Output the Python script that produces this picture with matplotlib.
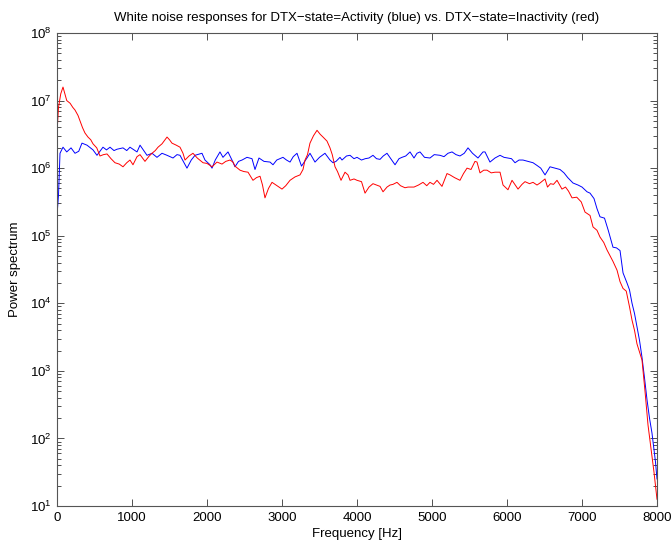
import numpy as np
import matplotlib
matplotlib.use("Agg")
import matplotlib.pyplot as plt
from matplotlib.ticker import LogLocator, FixedLocator

plt.rcParams['font.family'] = ['Liberation Sans', 'DejaVu Sans']
plt.rcParams['mathtext.fontset'] = 'custom'
plt.rcParams['mathtext.rm'] = 'Liberation Sans'

# blue: DTX-state=Activity, values read as log10(power)
freq_act = [0, 20, 40, 80, 130, 187, 240, 290, 333, 400, 480, 533, 613, 660, 707, 760,
            800, 880, 930, 973, 1067, 1107, 1150, 1200, 1267, 1333, 1400, 1467, 1547, 1600,
            1640, 1733, 1790, 1840, 1933, 1973, 2040, 2067, 2110, 2173, 2213, 2280, 2333,
            2373, 2420, 2467, 2533, 2600, 2640, 2693, 2760, 2840, 2880, 2930, 3013, 3060,
            3107, 3150, 3200, 3260, 3333, 3373, 3440, 3500, 3573, 3640, 3680, 3720, 3773,
            3800, 3860, 3907, 3960, 4000, 4060, 4110, 4160, 4213, 4260, 4307, 4350, 4400,
            4450, 4507, 4560, 4600, 4650, 4707, 4760, 4800, 4840, 4900, 4973, 5030, 5107,
            5160, 5213, 5267, 5320, 5373, 5430, 5480, 5540, 5613, 5680, 5707, 5773, 5840,
            5907, 5960, 6013, 6060, 6107, 6160, 6213, 6280, 6347, 6400, 6450, 6507, 6573,
            6640, 6707, 6760, 6810, 6880, 6947, 7000, 7067, 7107, 7160, 7200, 7240, 7300,
            7350, 7413, 7460, 7507, 7547, 7600, 7633, 7667, 7700, 7733, 7767, 7800, 7833,
            7867, 7900, 7933, 7960, 7980, 8000]
logp_act = [5.30, 5.60, 6.22, 6.31, 6.24, 6.30, 6.22, 6.25, 6.37, 6.34, 6.27, 6.19, 6.31, 6.27,
            6.31, 6.26, 6.28, 6.30, 6.26, 6.31, 6.24, 6.34, 6.27, 6.19, 6.22, 6.16, 6.22, 6.19,
            6.15, 6.20, 6.19, 6.00, 6.12, 6.19, 6.22, 6.12, 6.05, 6.00, 6.12, 6.24, 6.16, 6.24,
            6.12, 6.02, 6.10, 6.12, 6.16, 6.14, 5.98, 6.15, 6.10, 6.09, 6.05, 6.12, 6.16, 6.12,
            6.09, 6.17, 6.22, 6.03, 6.15, 6.22, 6.09, 6.16, 6.22, 6.12, 6.08, 6.10, 6.16, 6.12,
            6.18, 6.19, 6.14, 6.16, 6.12, 6.14, 6.15, 6.19, 6.14, 6.13, 6.18, 6.22, 6.14, 6.05,
            6.14, 6.16, 6.18, 6.24, 6.15, 6.22, 6.24, 6.16, 6.15, 6.20, 6.19, 6.17, 6.22, 6.24,
            6.20, 6.18, 6.22, 6.30, 6.22, 6.15, 6.24, 6.24, 6.09, 6.15, 6.19, 6.16, 6.15, 6.14,
            6.08, 6.12, 6.12, 6.10, 6.08, 6.04, 6.00, 5.90, 6.02, 6.00, 5.98, 5.93, 5.86, 5.78,
            5.75, 5.72, 5.65, 5.63, 5.55, 5.40, 5.28, 5.26, 5.08, 4.83, 4.82, 4.78, 4.45, 4.30,
            4.20, 4.00, 3.85, 3.65, 3.45, 3.20, 2.90, 2.57, 2.30, 2.08, 1.83, 1.65, 1.40]

# red: DTX-state=Inactivity, values read as log10(power)
freq_inact = [0, 20, 50, 80, 105, 130, 175, 210, 240, 280, 307, 340, 373, 413, 450, 480, 530,
              573, 620, 667, 720, 773, 830, 880, 930, 973, 1013, 1067, 1107, 1173, 1230, 1267,
              1310, 1347, 1400, 1467, 1500, 1533, 1590, 1640, 1680, 1707, 1760, 1813, 1870,
              1947, 2000, 2067, 2133, 2200, 2250, 2307, 2347, 2373, 2440, 2490, 2547, 2613,
              2660, 2707, 2740, 2773, 2820, 2867, 2907, 2960, 3000, 3050, 3107, 3173, 3240,
              3280, 3307, 3340, 3373, 3420, 3467, 3510, 3547, 3600, 3640, 3670, 3707, 3740,
              3787, 3840, 3880, 3907, 3960, 4000, 4060, 4107, 4160, 4213, 4260, 4307, 4347,
              4400, 4440, 4480, 4533, 4580, 4640, 4680, 4760, 4820, 4880, 4930, 4973, 5020,
              5067, 5133, 5200, 5240, 5300, 5373, 5420, 5467, 5520, 5573, 5600, 5640, 5690,
              5733, 5790, 5840, 5907, 5947, 6013, 6067, 6110, 6147, 6200, 6240, 6300, 6347,
              6400, 6440, 6507, 6540, 6580, 6620, 6667, 6733, 6780, 6820, 6867, 6930, 6990,
              7040, 7107, 7147, 7200, 7240, 7290, 7333, 7413, 7467, 7507, 7547, 7590, 7633,
              7667, 7700, 7733, 7767, 7800, 7840, 7880, 7920, 7960, 8000]
logp_inact = [6.52, 6.90, 7.10, 7.20, 7.10, 7.00, 6.96, 6.90, 6.86, 6.78, 6.70, 6.60, 6.52,
              6.46, 6.42, 6.36, 6.30, 6.18, 6.20, 6.21, 6.14, 6.08, 6.06, 6.02, 6.08, 6.12,
              6.05, 6.17, 6.20, 6.10, 6.18, 6.22, 6.26, 6.31, 6.36, 6.46, 6.42, 6.37, 6.34,
              6.31, 6.22, 6.12, 6.18, 6.22, 6.15, 6.08, 6.07, 6.02, 6.09, 6.06, 6.10, 6.12,
              6.09, 6.03, 5.97, 5.95, 5.94, 5.82, 5.86, 5.88, 5.75, 5.56, 5.70, 5.79, 5.76,
              5.72, 5.69, 5.74, 5.82, 5.87, 5.90, 5.98, 6.12, 6.20, 6.37, 6.48, 6.56, 6.50,
              6.46, 6.40, 6.30, 6.20, 6.02, 5.95, 5.82, 5.94, 5.90, 5.82, 5.84, 5.82, 5.80,
              5.63, 5.72, 5.77, 5.75, 5.73, 5.65, 5.72, 5.75, 5.76, 5.79, 5.74, 5.71, 5.72,
              5.72, 5.75, 5.79, 5.74, 5.79, 5.76, 5.82, 5.73, 5.92, 5.90, 5.86, 5.82, 5.92,
              6.00, 5.98, 6.10, 6.09, 5.93, 5.97, 5.97, 5.93, 5.94, 5.94, 5.75, 5.68, 5.82,
              5.75, 5.69, 5.76, 5.80, 5.77, 5.79, 5.75, 5.78, 5.84, 5.72, 5.77, 5.76, 5.82,
              5.69, 5.72, 5.66, 5.56, 5.57, 5.50, 5.35, 5.30, 5.13, 5.08, 4.98, 4.90, 4.79,
              4.62, 4.49, 4.32, 4.22, 4.18, 3.95, 3.75, 3.60, 3.40, 3.28, 3.16, 2.70, 2.20,
              1.85, 1.50, 1.10]

power_act = 10 ** np.array(logp_act)
power_inact = 10 ** np.array(logp_inact)

fig = plt.figure(figsize=(6.72, 5.45), dpi=100)
ax = fig.add_axes([57 / 672, 39 / 545, 600 / 672, 473 / 545])

ax.semilogy(freq_act, power_act, color='#0000ff', lw=0.7)
ax.semilogy(freq_inact, power_inact, color='#ff0000', lw=0.7)

ax.set_xlim(0, 8000)
ax.set_ylim(1e1, 1e8)
ax.xaxis.set_major_locator(FixedLocator(np.arange(0, 8001, 1000)))
ax.yaxis.set_major_locator(LogLocator(base=10, numticks=10))
ax.yaxis.set_minor_locator(LogLocator(base=10, subs=np.arange(2, 10), numticks=20))

ax.tick_params(which='both', direction='in', top=True, right=True, labelsize=9.5,
               color='#333333', width=0.6)
ax.tick_params(which='major', length=5, pad=4)
ax.tick_params(which='minor', length=3)
for s in ax.spines.values():
    s.set_color('#555555')
    s.set_linewidth(0.8)

ax.set_xlabel("Frequency [Hz]", fontsize=9.5, labelpad=3)
ax.set_ylabel("Power spectrum", fontsize=9.5, labelpad=6)
ax.set_title("White noise responses for DTX\u2212state=Activity (blue) vs. DTX\u2212state=Inactivity (red)",
             fontsize=9.5, pad=9)

fig.savefig("out.png", dpi=100)
